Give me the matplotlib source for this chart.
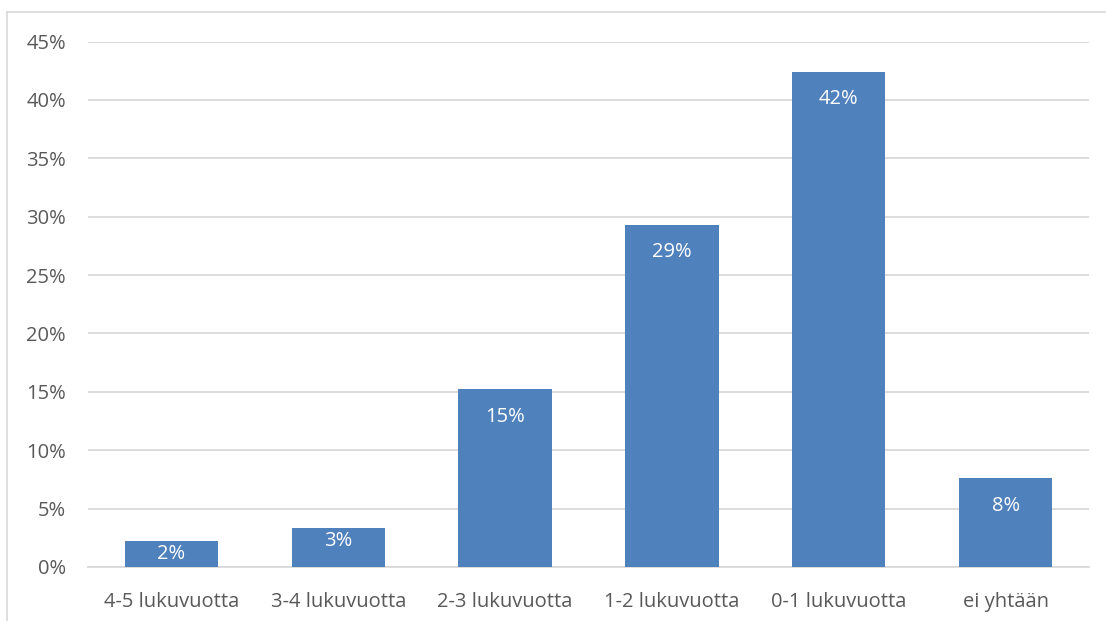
import matplotlib
matplotlib.use("Agg")
import matplotlib.pyplot as plt
from matplotlib.lines import Line2D
from matplotlib.ticker import MultipleLocator, FuncFormatter

categories = ["4-5 lukuvuotta", "3-4 lukuvuotta", "2-3 lukuvuotta", "1-2 lukuvuotta", "0-1 lukuvuotta", "ei yhtään"]
values = [2.2, 3.3, 15.2, 29.3, 42.4, 7.6]
labels = ["2%", "3%", "15%", "29%", "42%", "8%"]

plt.rcParams['font.family'] = ['Open Sans', 'DejaVu Sans']

fig = plt.figure(figsize=(11.06, 6.21), dpi=100)
ax = fig.add_axes([88/1106, 1-567/621, (1089-88)/1106, (567-41.5)/621])

ax.set_xlim(-0.5, len(categories) - 0.5)
ax.set_ylim(0, 45)

x = list(range(len(categories)))
bars = ax.bar(x, values, width=0.56, color="#4F81BD", zorder=3)
fig.canvas.draw()
for xi, v, lab in zip(x, values, labels):
    # bar height in pixels; short bars get label near their top edge
    y0 = ax.transData.transform((0, 0))[1]
    y1 = ax.transData.transform((0, v))[1]
    off = -19.8 if (y1 - y0) > 50 else -8.8
    ax.annotate(lab, (xi, v), xytext=(0, off), textcoords="offset points",
                ha="center", va="center", color="white", fontsize=14.5)

ax.yaxis.set_major_locator(MultipleLocator(5))
ax.yaxis.set_major_formatter(FuncFormatter(lambda v, p: f"{int(round(v))}%"))
ax.set_xticks(x)
ax.set_xticklabels(categories)
ax.grid(axis="y", color="#D9D9D9", linewidth=1.3, zorder=0)
for s in ax.spines.values():
    s.set_visible(False)
ax.spines["bottom"].set_visible(True)
ax.spines["bottom"].set_color("#D9D9D9")
ax.spines["bottom"].set_linewidth(1.3)
ax.tick_params(axis="both", length=0, labelsize=14.5, labelcolor="#595959")
ax.tick_params(axis="y", pad=16)
ax.tick_params(axis="x", pad=18)

# outer chart frame (left and top edges)
fig.add_artist(Line2D([7/1106, 7/1106], [0, 1-12/621], transform=fig.transFigure, color="#D9D9D9", linewidth=1.2))
fig.add_artist(Line2D([7/1106, 1], [1-12/621, 1-12/621], transform=fig.transFigure, color="#D9D9D9", linewidth=1.2))

fig.savefig("out.png", dpi=100)
